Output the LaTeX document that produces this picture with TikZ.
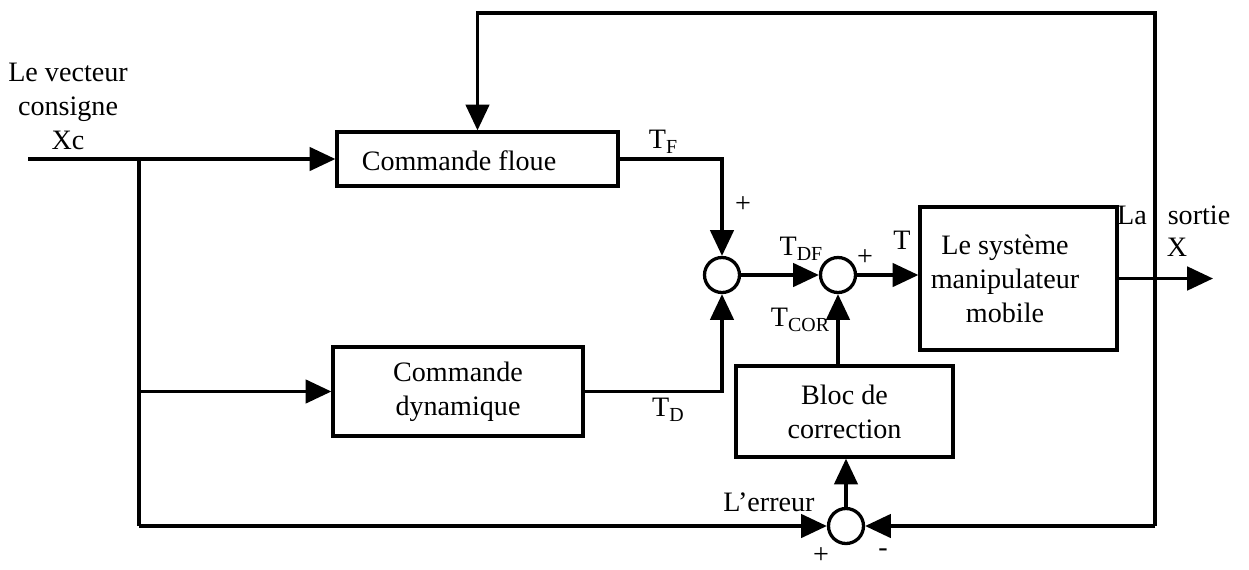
\documentclass[tikz,border=0pt]{standalone}
\usepackage{fontspec}
\setmainfont{Liberation Serif}
\usetikzlibrary{arrows.meta}
\newcommand\pxu[1]{#1*0.015cm}
\newcommand\Tsub[1]{T\raisebox{-0.4ex}{\fontsize{8.5}{9}\selectfont #1}}
\begin{document}
\begin{tikzpicture}[x=0.015cm,y=-0.015cm,
  line width=1.4pt,
  arr/.style={-{Triangle[length=11pt,width=10pt]}},
  blk/.style={draw,rectangle,inner sep=0pt,align=center,font=\fontsize{12}{14.5}\selectfont},
  sum/.style={draw,circle,minimum size=\pxu{35},inner sep=0pt},
  lab/.style={font=\fontsize{12}{14.5}\selectfont,inner sep=0pt,align=center}]
\useasboundingbox (0,0) rectangle (1249,569);

% blocks
\node[blk,minimum width=\pxu{281},minimum height=\pxu{54}] (floue) at (477.5,159) {};
\node[lab] (flouetxt) at (459,161) {Commande floue};
\node[blk,minimum width=\pxu{250},minimum height=\pxu{89}] (dyn) at (458,391.5) {Commande\\dynamique};
\node[blk,minimum width=\pxu{197},minimum height=\pxu{143}] (sys) at (1018.5,278.5) {};
\node[lab] (systxt) at (1005,279) {Le système\\manipulateur\\mobile};
\node[blk,minimum width=\pxu{217},minimum height=\pxu{91}] (cor) at (844.5,411.5) {Bloc de\\correction};
\node[sum] (s1) at (722,275) {};
\node[sum] (s2) at (838,275) {};
\node[sum] (se) at (846,526) {};

% free ends and junctions
\coordinate (in) at (28,159);
\coordinate (j1) at (139,159);
\coordinate (j2) at (139,391.5);
\coordinate (j3) at (139,526);
\coordinate (fb1) at (1155,13);
\coordinate (fb2) at (1155,526);
\coordinate (out) at (1213,278.5);

% connectors
\draw[arr] (in) -- (floue.west);
\draw (j1) -- (j3);
\draw[arr] (j2) -- (dyn.west);
\draw[arr] (j3) -- (se.west);
\draw[arr] (floue.east) -| (s1.north);
\draw[arr] (dyn.east) -| (s1.south);
\draw[arr] (s1.east) -- (s2.west);
\draw[arr] (s2.east) -- (s2.east -| sys.west);
\draw[arr] (cor.north -| s2) -- (s2.south);
\draw[arr] (se.north) -- (se.north |- cor.south);
\draw[arr] (sys.east) -- (out);
\draw[arr] (fb2) -- (se.east);
\draw[arr] (fb2) -- (fb1) -- (fb1 -| floue.north) -- (floue.north);

% labels
\node[lab] (lin) at (68,106) {Le vecteur\\consigne\\Xc};
\node[lab] (ltf) at (663,142) {\Tsub{F}};
\node[lab] (lp1) at (743,205) {+};
\node[lab] (ltdf) at (801,249) {\Tsub{DF}};
\node[lab] (lp2) at (865,258) {+};
\node[lab] (lt) at (902,240) {T};
\node[lab] (ltcor) at (800,320) {\Tsub{COR}};
\node[lab] (ltd) at (668,410) {\Tsub{D}};
\node[lab] (lerr) at (769,502) {L’erreur};
\node[lab] (lp3) at (821,556) {+};
\node[lab] (lm) at (883,553) {-};
\node[lab] (lla) at (1132,215) {La};
\node[lab] (lso) at (1199,215) {sortie};
\node[lab] (lx) at (1177,247) {X};
\end{tikzpicture}
\end{document}
